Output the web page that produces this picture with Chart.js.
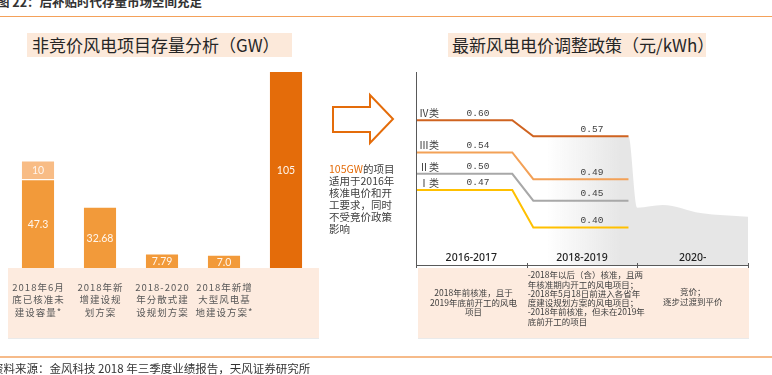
<!DOCTYPE html>
<html lang="zh">
<head>
<meta charset="UTF-8" />
<title>后补贴时代存量市场空间充足</title>
<script src="https://cdn.jsdelivr.net/npm/chart.js"></script>
<style>
  body { margin: 0; width: 772px; height: 375px; overflow: hidden; background: #fff; position: relative;
         font-family: "Noto Sans CJK SC", "Noto Sans", sans-serif; color: #333; }
  canvas { position: absolute; left: 0; top: 0; }
  .abs { position: absolute; white-space: nowrap; }
  .rule { position: absolute; left: 0; width: 772px; }
  .title { position: absolute; top: 33px; height: 24px; line-height: 24px; background: #FCE9DA;
           font-size: 17px; color: #262626; box-sizing: border-box; }
</style>
</head>
<body>
  <div class="abs" style="left:-3px; top:-5px; font-size:12.5px; line-height:14px; font-weight:bold; color:#333;">图 22：后补贴时代存量市场空间充足</div>
  <div class="rule" style="top:16px; height:1px; background:#F4A15A;"></div>

  <div class="title" style="left:27px; width:265px; padding-left:5px;">非竞价风电项目存量分析（GW）</div>
  <div class="title" style="left:448px; width:258px; padding-left:4px;">最新风电电价调整政策（元/kWh）</div>

  <canvas id="stockChart" width="772" height="375"></canvas>
  <canvas id="priceChart" width="772" height="375"></canvas>

  <svg class="abs" style="left:0; top:0;" width="772" height="375">
    <polygon points="333,107 370,107 370,95 393,119 370,143 370,132 333,132"
             fill="#fff" stroke="#E46C0A" stroke-width="2" />
  </svg>
  <div class="abs" style="left:329px; top:163px; font-size:10.5px; line-height:12px; color:#404040;">
    <span style="color:#E46C0A;">105GW</span>的项目<br>适用于2016年<br>核准电价和开<br>工要求，同时<br>不受竞价政策<br>影响
  </div>

  <div class="rule" style="top:356px; height:2px; background:#F6BB8A;"></div>
  <div class="abs" style="left:-8px; top:361px; font-size:11.5px; line-height:14px; color:#333;">资料来源：金风科技 2018 年三季度业绩报告，天风证券研究所</div>

<script>
// ---- left chart data (GW)
const stockCategories = [
  ['2018年6月', '底已核准未', '建设容量*'],
  ['2018年新', '增建设规', '划方案'],
  ['2018-2020', '年分散式建', '设规划方案'],
  ['2018年新增', '大型风电基', '地建设方案*'],
  ['']
];
const stockBase = [47.3, 32.68, 7.79, 7.0, 105];
const stockExtra = [10, null, null, null, null];
const stockColors = ['#F29A3A', '#F29A3A', '#F29A3A', '#F29A3A', '#E46C0A'];

// ---- right chart data (元/kWh)
const periods = ['2016-2017', '2018-2019', '2020-'];
const classNames = ['Ⅳ类', 'Ⅲ类', 'Ⅱ类', 'Ⅰ类'];
const price2016 = [0.60, 0.54, 0.50, 0.47];
const price2018 = [0.57, 0.49, 0.45, 0.40];
const classColors = ['#CF6320', '#F3A157', '#A8A8A8', '#FFC000'];
const trendX = [1.18, 1.92, 2.0, 2.23, 2.57, 3.0];
const trendY = [0.57, 0.57, 0.437, 0.442, 0.427, 0.42];
const periodNotes = [
  ['2018年前核准，且于', '2019年底前开工的风电', '项目'],
  ['-2018年以后（含）核准，且两', '年核准期内开工的风电项目；', '-2018年5月18日前进入各省年',
   '度建设规划方案的风电项目；', '-2018年前核准，但未在2019年', '底前开工的项目'],
  ['竞价；', '逐步过渡到平价']
];

const bandColor = '#FDEBDF';
const fmt = v => (v < 10 && Number.isInteger(v)) ? v.toFixed(1) : String(v);

// where the price lines step down between the two periods
const rampStart = 0.87, rampEnd = 1.06, lineEnd = 1.92;

const stockDecor = {
  id: 'stockDecor',
  beforeDraw(chart) {
    const { ctx, chartArea: a } = chart;
    ctx.save();
    ctx.fillStyle = bandColor;
    ctx.fillRect(a.left + 1, a.bottom, a.right - a.left + 1, 70);
    ctx.fillStyle = '#EAEAEA';
    ctx.fillRect(a.left + 1, a.bottom + 70, a.right - a.left + 1, 1);
    ctx.restore();
  },
  afterDatasetsDraw(chart) {
    const { ctx, chartArea: a } = chart;
    ctx.save();
    ctx.textAlign = 'center';
    ctx.textBaseline = 'middle';
    ctx.font = '10.5px Lato';
    ctx.fillStyle = '#FFF6EE';
    chart.data.datasets.forEach((ds, di) => {
      chart.getDatasetMeta(di).data.forEach((bar, i) => {
        const v = ds.data[i];
        if (v == null) return;
        ctx.fillText(fmt(v), bar.x, (bar.y + bar.base) / 2 + 1);
      });
    });
    ctx.font = '9.5px "Noto Sans CJK SC"';
    ctx.letterSpacing = '1px';
    ctx.fillStyle = '#595959';
    const xs = chart.scales.x;
    stockCategories.forEach((lines, i) => {
      lines.forEach((t, k) => ctx.fillText(t, xs.getPixelForValue(i) + 0.5, a.bottom + 19 + k * 12.5));
    });
    ctx.restore();
  }
};

new Chart(document.getElementById('stockChart'), {
  type: 'bar',
  data: {
    labels: stockCategories,
    datasets: [
      { data: stockBase, backgroundColor: stockColors, borderColor: 'rgba(255,255,255,0.5)', borderWidth: 1 },
      { data: stockExtra, backgroundColor: '#F8BC85', borderColor: 'rgba(255,255,255,0.5)', borderWidth: 1 }
    ]
  },
  options: {
    responsive: false,
    animation: false,
    barPercentage: 0.55,
    categoryPercentage: 1,
    layout: { padding: { left: 7, right: 455, top: 71, bottom: 107 } },
    plugins: { legend: { display: false }, tooltip: { enabled: false } },
    scales: {
      x: { stacked: true, display: false },
      y: { stacked: true, display: false, min: 0, max: 105 }
    }
  },
  plugins: [stockDecor]
});

const priceDecor = {
  id: 'priceDecor',
  beforeDraw(chart) {
    const { ctx, chartArea: a } = chart;
    ctx.save();
    ctx.fillStyle = bandColor;
    ctx.fillRect(a.left + 2, a.bottom + 3, a.right - a.left - 1, 70);
    ctx.fillStyle = '#EAEAEA';
    ctx.fillRect(a.left + 2, a.bottom + 73, a.right - a.left - 1, 1);
    ctx.restore();
  },
  afterDatasetsDraw(chart) {
    const { ctx, chartArea: a } = chart;
    const xs = chart.scales.x, ys = chart.scales.y;
    ctx.save();
    // axes
    ctx.strokeStyle = '#595959';
    ctx.lineWidth = 1;
    ctx.beginPath();
    ctx.moveTo(a.left + 0.5, a.top);
    ctx.lineTo(a.left + 0.5, a.bottom + 3);
    ctx.moveTo(a.left, a.bottom + 0.5);
    ctx.lineTo(a.right + 1, a.bottom + 0.5);
    for (let i = 1; i <= periods.length; i++) {
      const x = Math.round(xs.getPixelForValue(i)) + 0.5;
      ctx.moveTo(x, a.bottom - 2);
      ctx.lineTo(x, a.bottom + 3);
    }
    ctx.stroke();

    ctx.textAlign = 'center';
    ctx.textBaseline = 'middle';
    ctx.fillStyle = '#1F1F1F';
    ctx.font = '500 10.5px "Noto Sans"';
    periods.forEach((p, i) => ctx.fillText(p, xs.getPixelForValue(i + 0.5), a.bottom - 7));

    // class names and price labels
    ctx.fillStyle = '#404040';
    ctx.textAlign = 'left';
    ctx.font = '10px "Noto Sans CJK SC"';
    classNames.forEach((n, i) => ctx.fillText(n, a.left + 3, ys.getPixelForValue(price2016[i]) - 7));
    ctx.textAlign = 'center';
    ctx.font = '9.5px "Liberation Mono"';
    price2016.forEach(v => ctx.fillText(v.toFixed(2), xs.getPixelForValue(0.56), ys.getPixelForValue(v) - 7));
    price2018.forEach(v => ctx.fillText(v.toFixed(2), xs.getPixelForValue(1.59), ys.getPixelForValue(v) - 7));

    // notes under each period
    ctx.font = '8.5px "Noto Sans CJK SC"';
    periodNotes[0].forEach((t, k) => ctx.fillText(t, xs.getPixelForValue(0.52), a.bottom + 28 + k * 9.5));
    ctx.textAlign = 'left';
    periodNotes[1].forEach((t, k) => ctx.fillText(t, xs.getPixelForValue(1) + 1, a.bottom + 10 + k * 9.3));
    ctx.textAlign = 'center';
    periodNotes[2].forEach((t, k) => ctx.fillText(t, xs.getPixelForValue(2.5), a.bottom + 27 + k * 10));
    ctx.restore();
  }
};

const priceSets = classNames.map((n, i) => ({
  label: n,
  data: [
    { x: 0, y: price2016[i] },
    { x: rampStart, y: price2016[i] },
    { x: rampEnd, y: price2018[i] },
    { x: lineEnd, y: price2018[i] }
  ],
  borderColor: classColors[i],
  borderWidth: 2,
  pointRadius: 0,
  fill: false,
  order: 1
}));

priceSets.push({
  label: 'trend',
  data: trendX.map((x, i) => ({ x, y: trendY[i] })),
  borderColor: 'rgba(0,0,0,0)',
  borderWidth: 0,
  pointRadius: 0,
  fill: 'start',
  cubicInterpolationMode: 'monotone',
  order: 5,
  backgroundColor(c) {
    const { chart } = c;
    if (!chart.chartArea) return '#E6E6E6';
    const xs = chart.scales.x;
    const g = chart.ctx.createLinearGradient(xs.getPixelForValue(1.18), 0, xs.getPixelForValue(1.85), 0);
    g.addColorStop(0, 'rgba(230,230,230,0)');
    g.addColorStop(1, '#E6E6E6');
    return g;
  }
});

new Chart(document.getElementById('priceChart'), {
  type: 'line',
  data: { datasets: priceSets },
  options: {
    responsive: false,
    animation: false,
    layout: { padding: { left: 416, right: 24, top: 72, bottom: 110 } },
    plugins: { legend: { display: false }, tooltip: { enabled: false } },
    scales: {
      x: { type: 'linear', display: false, min: 0, max: 3 },
      y: { display: false, min: 0.33, max: 0.69 }
    }
  },
  plugins: [priceDecor]
});
</script>
</body>
</html>
